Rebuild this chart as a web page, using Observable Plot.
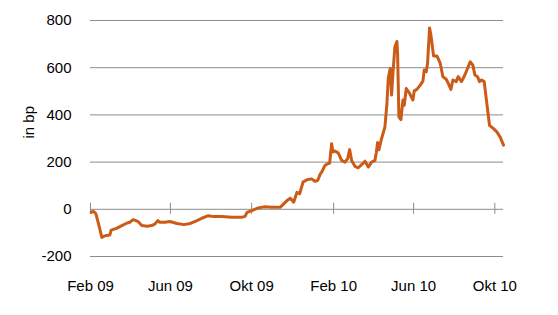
<!DOCTYPE html>
<html><head><meta charset="utf-8">
<script src="https://cdn.jsdelivr.net/npm/d3@7"></script>
<script src="https://cdn.jsdelivr.net/npm/@observablehq/plot@0.6"></script>
<style>body{margin:0;background:#fff}</style>
</head><body><div id="chart"></div>
<script>
const dates = [
"2009-02-02","2009-02-05","2009-02-09","2009-02-13","2009-02-18","2009-02-23","2009-03-02","2009-03-04","2009-03-12","2009-03-20",
"2009-03-28","2009-04-01","2009-04-06","2009-04-13","2009-04-19","2009-04-27","2009-05-04","2009-05-09","2009-05-13","2009-05-16",
"2009-05-24","2009-05-31","2009-06-11","2009-06-21","2009-07-01","2009-07-11","2009-07-18","2009-07-28","2009-08-05","2009-08-17",
"2009-09-01","2009-09-16","2009-09-21","2009-09-24","2009-10-01","2009-10-11","2009-10-21","2009-10-31","2009-11-13","2009-11-18",
"2009-11-23","2009-11-28","2009-12-03","2009-12-08","2009-12-12","2009-12-17","2009-12-23","2009-12-30","2010-01-04","2010-01-08",
"2010-01-12","2010-01-14","2010-01-19","2010-01-23","2010-01-26","2010-01-29","2010-01-31","2010-02-03","2010-02-08","2010-02-13",
"2010-02-18","2010-02-22","2010-02-25","2010-02-28","2010-03-05","2010-03-10","2010-03-15","2010-03-20","2010-03-25","2010-03-30",
"2010-04-04","2010-04-06","2010-04-08","2010-04-10","2010-04-14","2010-04-19","2010-04-22","2010-04-24","2010-04-27","2010-04-29",
"2010-05-01","2010-05-04","2010-05-07","2010-05-08","2010-05-10","2010-05-13","2010-05-16","2010-05-18","2010-05-21","2010-05-26",
"2010-05-31","2010-06-02","2010-06-06","2010-06-11","2010-06-15","2010-06-17","2010-06-20","2010-06-22","2010-06-25","2010-06-27",
"2010-07-01","2010-07-06","2010-07-11","2010-07-15","2010-07-20","2010-07-23","2010-07-27","2010-07-30","2010-08-04","2010-08-07",
"2010-08-12","2010-08-17","2010-08-22","2010-08-25","2010-08-29","2010-09-01","2010-09-05","2010-09-08","2010-09-11","2010-09-15",
"2010-09-19","2010-09-23","2010-09-29","2010-10-04","2010-10-09","2010-10-14"
];
const values = [
-13,-8,-18,-61,-119,-112,-109,-88,-81,-69,
-58,-55,-44,-51,-69,-72,-69,-62,-48,-55,
-55,-52,-60,-65,-60,-48,-38,-27,-31,-31,
-34,-34,-30,-13,-6,6,11,9,9,23,
37,47,30,72,66,115,125,129,119,122,
150,157,186,193,196,278,243,247,238,207,
200,214,253,207,182,176,189,204,179,200,
207,240,283,252,300,349,448,555,597,484,
576,689,711,661,391,380,463,441,512,491,
463,502,508,526,543,590,583,619,768,739,
650,650,619,562,551,534,508,548,541,562,
541,569,604,625,611,569,562,541,548,541,
448,356,342,328,306,272
];
const yTicks = [-200, 0, 200, 400, 600, 800];
const gridValues = [-200, 200, 400, 600, 800];
const xTickDates = ["2009-02-01","2009-06-01","2009-10-01","2010-02-01","2010-06-01","2010-10-01"];
const monthNames = ["Jan","Feb","Mär","Apr","Mai","Jun","Jul","Aug","Sep","Okt","Nov","Dez"];
const xDomain = ["2009-02-01", "2010-10-14"];
const yLabel = "in bp";

const data = dates.map((d, i) => ({date: new Date(d), value: values[i]}));
const ticks = xTickDates.map(d => new Date(d));
const fmt = d => monthNames[d.getUTCMonth()] + " " + String(d.getUTCFullYear() % 100).padStart(2, "0");

const chart = Plot.plot({
  width: 558, height: 315,
  marginLeft: 90, marginRight: 55, marginTop: 20, marginBottom: 59,
  style: {fontFamily: "'Liberation Sans', Arial, sans-serif", fontSize: "15px", color: "#000", background: "#fff"},
  x: {type: "utc", domain: xDomain.map(d => new Date(d))},
  y: {domain: [-200, 800]},
  marks: [
    Plot.ruleY(gridValues, {stroke: "#8c8c8c", strokeWidth: 1}),
    Plot.ruleY([0], {stroke: "#8c8c8c", strokeWidth: 1}),
    Plot.ruleX(ticks, {x: d => d, y1: 0, y2: 0, insetTop: -6, insetBottom: -5, stroke: "#8c8c8c"}),
    Plot.line(data, {x: "date", y: "value", stroke: "#CB5B17", strokeWidth: 3, strokeLinejoin: "round", curve: "linear"}),
    Plot.axisY(yTicks, {anchor: "left", tickSize: 0, tickPadding: 19, tickFormat: d => String(d), fill: "#000", label: null}),
    Plot.axisX(ticks, {anchor: "bottom", tickSize: 0, tickPadding: 24, tickFormat: fmt, fill: "#000", label: null}),
    Plot.text([yLabel], {frameAnchor: "left", dx: -61, rotate: -90, fill: "#000"})
  ]
});
document.getElementById("chart").appendChild(chart);
</script>
</body></html>
